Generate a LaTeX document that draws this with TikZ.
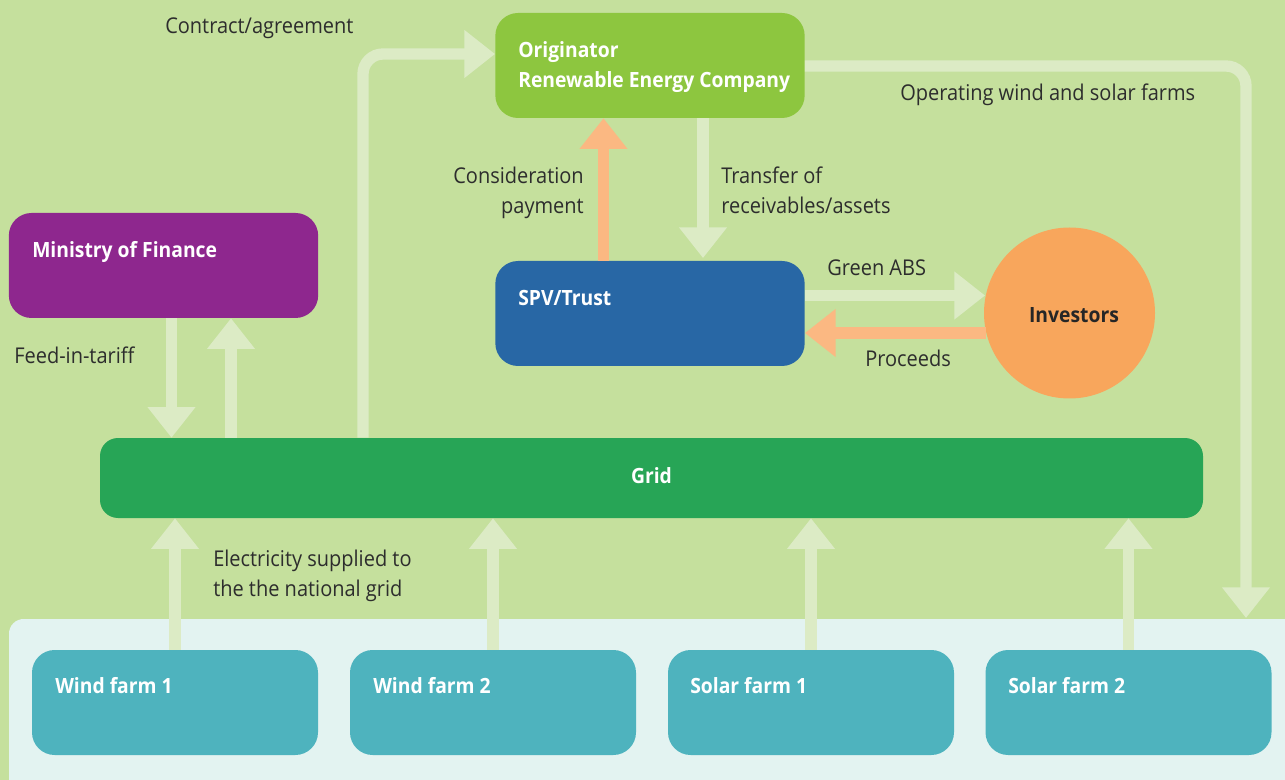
\documentclass[tikz,border=0pt]{standalone}
\usepackage{fontspec}
\setmainfont{Open Sans}[FakeStretch=0.92]
\usetikzlibrary{arrows.meta}
\definecolor{bg}{HTML}{C5E09D}
\definecolor{panel}{HTML}{E3F3F1}
\definecolor{palearrow}{HTML}{DCEBC5}
\definecolor{orangearrow}{HTML}{FBB882}
\definecolor{farmteal}{HTML}{4EB3BE}
\definecolor{gridgreen}{HTML}{27A556}
\definecolor{origgreen}{HTML}{8DC63F}
\definecolor{mofpurple}{HTML}{8E278E}
\definecolor{spvblue}{HTML}{2867A5}
\definecolor{invorange}{HTML}{F8A65C}
\definecolor{txt}{HTML}{2D2D2D}
\begin{document}
\begin{tikzpicture}[x=0.75pt,y=-0.75pt,
  box/.style={rectangle, inner sep=0pt, draw=none, rounded corners=17pt},
  bigbox/.style={box, minimum width=232pt, minimum height=78.75pt},
  farmbox/.style={box, fill=farmteal, minimum width=214.5pt, minimum height=78.75pt},
  boxlabel/.style={anchor=base west, inner sep=0pt, text=white, font=\fontsize{15.75}{22.5}\selectfont\bfseries, align=left},
  lbl/.style={inner sep=0pt, text=txt, font=\fontsize{16.3}{22.5}\selectfont},
  palearr/.style={draw=palearrow, line width=8.5pt, -{Triangle[width=34.5pt,length=23pt]}},
  orangearr/.style={draw=orangearrow, line width=8.5pt, -{Triangle[width=34.5pt,length=23pt]}}
]
\useasboundingbox (0,0) rectangle (1285,780);
\fill[bg] (0,0) rectangle (1285,780);
\fill[panel, rounded corners=11pt] (9,619) rectangle (1320,820);

% nodes
\node[bigbox, fill=mofpurple] (mof) at (163.5,265.5) {};
\node[bigbox, fill=origgreen] (orig) at (650,65.5) {};
\node[bigbox, fill=spvblue] (spv) at (650,313.5) {};
\node[box, fill=gridgreen, rounded corners=13.5pt, minimum width=827.25pt, minimum height=60pt] (grid) at (651.5,478) {};
\node[circle, fill=invorange, inner sep=0pt, minimum size=128.25pt] (inv) at (1069.5,313) {};
\node[farmbox] (w1) at (175,702.5) {};
\node[farmbox] (w2) at (493,702.5) {};
\node[farmbox] (s1) at (811,702.5) {};
\node[farmbox] (s2) at (1128.5,702.5) {};

% box labels
\node[boxlabel] (mofl) at (32,258) {Ministry of Finance};
\node[boxlabel] (origl) at (518,88) {Originator\\Renewable Energy Company};
\node[boxlabel] (spvl) at (518,306) {SPV/Trust};
\node[boxlabel, anchor=center] (gridl) at (651.5,476) {Grid};
\node[boxlabel, anchor=center, text=black!85] (invl) at (1074,315) {Investors};
\node[boxlabel] (w1l) at (55,693) {Wind farm 1};
\node[boxlabel] (w2l) at (373,693) {Wind farm 2};
\node[boxlabel] (s1l) at (690,693) {Solar farm 1};
\node[boxlabel] (s2l) at (1008,693) {Solar farm 2};

% helper coordinates
\coordinate (kc) at (363,54);
\coordinate (ko) at (1246,66);
\coordinate (opend) at (1246,618);
\coordinate (kt) at (703,0);
\coordinate (kp) at (603.5,0);
\coordinate (kg) at (0,295.5);
\coordinate (kq) at (0,333);
\coordinate (km1) at (171.5,0);
\coordinate (km2) at (231,0);

% connectors
\draw[palearr, rounded corners=15pt] (kc |- grid.north) |- (orig.west |- kc);
\draw[palearr, rounded corners=15pt] (orig.east |- ko) -| (opend);
\draw[palearr] (kt |- orig.south) -- ([yshift=2pt]kt |- spv.north);
\draw[orangearr] (kp |- spv.north) -- (kp |- orig.south);
\draw[palearr] (spv.east |- kg) -- ([xshift=1pt]kg -| inv.west);
\draw[orangearr] ([xshift=1.5pt]kq -| inv.west) -- (spv.east |- kq);
\draw[palearr] (km1 |- mof.south) -- (km1 |- grid.north);
\draw[palearr] (km2 |- grid.north) -- (km2 |- mof.south);
\draw[palearr] (w1.north) -- (w1.north |- grid.south);
\draw[palearr] (w2.north) -- (w2.north |- grid.south);
\draw[palearr] (s1.north) -- (s1.north |- grid.south);
\draw[palearr] (s2.north) -- (s2.north |- grid.south);

% connector labels
\node[lbl, anchor=base west] (lc) at (165,34) {Contract/agreement};
\node[lbl, anchor=base east, align=right] (lp) at (584,214) {Consideration\\payment};
\node[lbl, anchor=base west, align=left] (lt) at (721,214) {Transfer of\\receivables/assets};
\node[lbl, anchor=base west] (lo) at (900,101) {Operating wind and solar farms};
\node[lbl, anchor=base west] (lg) at (827,276) {Green ABS};
\node[lbl, anchor=base west] (lpr) at (865,367) {Proceeds};
\node[lbl, anchor=base west] (lf) at (14,364) {Feed-in-tariff};
\node[lbl, anchor=base west, align=left] (le) at (213,596) {Electricity supplied to\\the the national grid};
\end{tikzpicture}
\end{document}
